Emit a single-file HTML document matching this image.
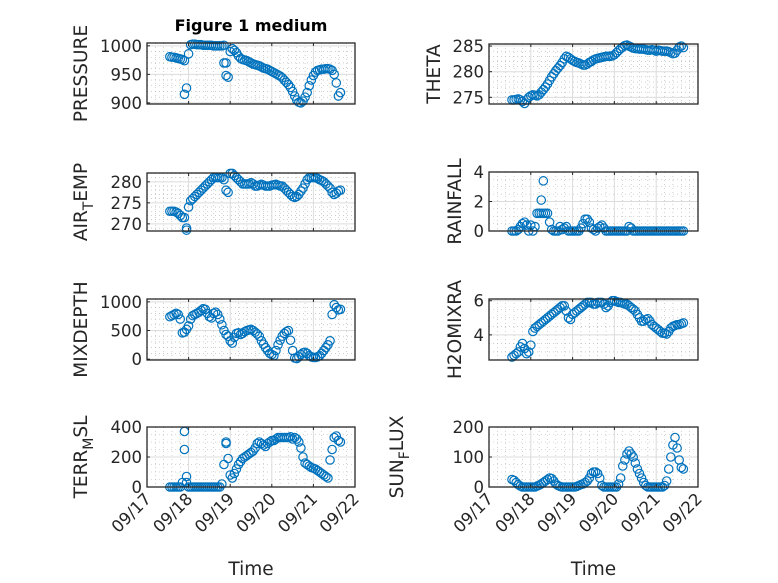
<!DOCTYPE html>
<html><head><meta charset="utf-8"><style>
html,body{margin:0;padding:0;background:#fff;}
svg{display:block;font-family:"DejaVu Sans","Liberation Sans",sans-serif;}
</style></head><body>
<svg id="fig" width="778" height="583" viewBox="0 0 778 583" xmlns="http://www.w3.org/2000/svg">
<rect width="778" height="583" fill="#fff"/>
<text x="251" y="31" text-anchor="middle" font-size="16" font-weight="bold" fill="#000">Figure 1 medium</text>
</svg>
<script>
const times = [0.55,0.60,0.65,0.70,0.75,0.80,0.85,0.90,0.95,1.00,1.05,1.10,1.15,1.20,1.25,1.30,1.35,1.40,1.45,1.50,1.55,1.60,1.65,1.70,1.75,1.80,1.85,1.90,1.95,2.00,2.05,2.10,2.15,2.20,2.25,2.30,2.35,2.40,2.45,2.50,2.55,2.60,2.65,2.70,2.75,2.80,2.85,2.90,2.95,3.00,3.05,3.10,3.15,3.20,3.25,3.30,3.35,3.40,3.45,3.50,3.55,3.60,3.65,3.70,3.75,3.80,3.85,3.90,3.95,4.00,4.05,4.10,4.15,4.20,4.25,4.30,4.35,4.40,4.45,4.50,4.55,4.60,4.65];
const xTickLabels = ["09/17","09/18","09/19","09/20","09/21","09/22"];
const pressure = [981,980,980,979,978,977,976,974,926,986, 1002,1003,1003,1002,1002,1002,1001,1001,1001,1001, 1001,1000,1000,1000,1000,1000,1001,970,945,990, 995,992,988,982,978,976,975,974,972,970, 968,967,966,965,963,961,960,959,957,955, 953,951,949,947,944,940,936,932,927,920, 912,905,901,900,903,910,918,930,940,948, 954,957,958,959,959,960,960,959,957,950, 935,912,918];
const airTemp = [273,273,273,272.8,272.5,272,271.5,271.5,268.5,274, 275.5,276,276.5,277,277.5,278,278.5,279,279.5,280, 280.5,281,281,281,281,281,280.5,278,277.5,282, 282,281.5,281,280.5,280,279.5,279.5,279.5,279.5,279.8, 279.5,279,279,279.2,279.4,279.2,279,279,279,279.2, 279.3,279.4,279.2,279,279,278.5,278,277.5,277,276.5, 276.3,276.5,277,277.8,278.5,279.5,280.5,281,281,281, 281,280.8,280.5,280.3,280,279.5,279,278.5,277.5,277, 277.3,277.8,278];
const mixDepth = [740,760,780,800,780,700,460,470,520,580, 700,760,780,800,820,850,880,870,800,740, 720,800,820,780,700,600,500,430,400,320, 280,380,450,460,430,450,480,500,510,520, 500,470,440,400,320,260,200,150,100,80, 60,150,250,330,400,450,480,500,330,150, 20,10,40,80,110,120,100,60,40,30, 30,40,60,100,150,200,250,320,780,950, 900,860,870];
const terrMsl = [0,0,0,0,0,0,30,370,70,0, 0,0,0,0,0,0,0,0,0,0, 0,0,0,0,0,20,150,290,190,80, 60,90,120,150,170,190,200,210,220,230, 240,260,290,300,290,280,270,290,300,310, 310,320,330,330,330,330,330,330,335,320, 330,320,300,260,200,160,150,140,130,125, 120,110,100,90,80,70,60,180,250,330, 340,310,300];
const theta = [274.5,274.5,274.6,274.7,274.5,274.2,273.8,274.5,275,275.3, 275.5,275.4,275.3,275.5,276,276.5,277,277.6,278.3,279, 279.6,280.2,280.7,281.2,281.8,282.5,283,282.8,282.5,282.2, 282,281.8,281.7,281.5,281.3,281.3,281.5,281.8,282,282.3, 282.5,282.6,282.7,282.8,282.9,283,283,283,283.1,283.3, 283.7,284.1,284.5,284.8,285.1,285.2,285,284.8,284.6,284.5, 284.5,284.4,284.4,284.4,284.3,284.2,284.2,284.3,284.2,284, 284.2,284.1,284,284,284,283.9,283.7,283.5,283.6,284.2, 284.8,285,284.7];
const rainfall = [0,0,0,0.1,0.3,0.5,0.6,0.4,0,0.4, 0,0.3,1.2,1.2,2.1,3.4,1.2,1.2,0.6,0.1, 0,0,0,0.3,0.1,0.2,0.3,0,0,0, 0,0,0,0.2,0.5,0.8,0.8,0.6,0.2,0.1, 0,0.2,0.3,0.4,0.2,0,0,0,0,0, 0,0,0,0,0,0,0.3,0.2,0,0, 0,0,0,0,0,0,0,0,0,0, 0,0,0,0,0,0,0,0,0,0, 0,0,0];
const h2oMix = [2.7,2.8,2.9,3.0,3.3,3.5,3.2,2.9,3.0,3.4, 4.2,4.4,4.5,4.6,4.7,4.8,4.9,5.0,5.1,5.2, 5.3,5.4,5.5,5.6,5.7,5.7,5.4,5.0,4.9,5.2, 5.3,5.4,5.5,5.6,5.7,5.8,5.9,5.9,5.9,5.8, 5.8,5.9,5.9,5.9,5.8,5.6,5.7,5.9,6.0,6.0, 5.95,5.9,5.9,5.85,5.8,5.8,5.7,5.6,5.5,5.4, 5.2,5.0,4.8,4.8,4.9,4.95,4.8,4.6,4.5,4.4, 4.3,4.2,4.1,4.1,4.05,4.2,4.4,4.5,4.55,4.6, 4.6,4.65,4.7];
const sunFlux = [25,22,15,8,3,0,0,0,0,0, 0,0,3,6,10,15,20,25,30,28, 20,10,5,2,0,0,0,0,0,0, 0,2,5,8,10,15,20,30,45,50, 50,45,30,5,0,0,0,0,0,0, 0,10,30,70,90,110,120,110,100,80, 60,45,30,15,5,0,0,0,0,0, 0,0,0,5,20,60,100,140,165,130, 90,65,60];
const extraPressureT = [0.90,1.85,1.90]; const extraPressureV = [915,970,948];
const extraAirT = [0.95]; const extraAirV = [269];
const extraTerrT = [0.90,0.95,1.90]; const extraTerrV = [250,30,300];
const extraRainT = [1.25,1.30]; const extraRainV = [1.2,1.2];

const NS = "http://www.w3.org/2000/svg";
const svg = document.getElementById('fig');
function mk(tag, attrs, parent){const e=document.createElementNS(NS,tag);for(const k in attrs)e.setAttribute(k,attrs[k]);(parent||svg).appendChild(e);return e;}

const panels = [
 {key:'pressure',vals:pressure,ex:[extraPressureT,extraPressureV],L:147,T:43,R:355,B:104,ymin:898,ymax:1005,ticks:[900,950,1000],minor:10,label:['PRESSURE'],lx:87,xl:false},
 {key:'theta',vals:theta,ex:null,L:489,T:44,R:698,B:104,ymin:273.7,ymax:285.4,ticks:[275,280,285],minor:1,label:['THETA'],lx:440,xl:false},
 {key:'air-temp',vals:airTemp,ex:[extraAirT,extraAirV],L:147,T:173,R:355,B:231,ymin:268.3,ymax:282.1,ticks:[270,275,280],minor:1,label:['AIR','T','EMP'],lx:87,xl:false},
 {key:'rainfall',vals:rainfall,ex:[extraRainT,extraRainV],L:489,T:172,R:698,B:231,ymin:0,ymax:4,ticks:[0,2,4],minor:0.5,label:['RAINFALL'],lx:461,xl:false},
 {key:'mixdepth',vals:mixDepth,ex:null,L:147,T:299,R:355,B:360,ymin:-15,ymax:1050,ticks:[0,500,1000],minor:100,label:['MIXDEPTH'],lx:87,xl:false},
 {key:'h2omixratio',vals:h2oMix,ex:null,L:489,T:299,R:698,B:360,ymin:2.53,ymax:6.1,ticks:[4,6],minor:0.5,label:['H2OMIXRA'],lx:461,xl:false},
 {key:'terr-msl',vals:terrMsl,ex:[extraTerrT,extraTerrV],L:147,T:427,R:355,B:487,ymin:0,ymax:400,ticks:[0,200,400],minor:50,label:['TERR','M','SL'],lx:87,xl:true},
 {key:'sun-flux',vals:sunFlux,ex:null,L:489,T:427,R:698,B:487,ymin:0,ymax:200,ticks:[0,100,200],minor:25,label:['SUN','F','LUX'],lx:403,xl:true}
];

panels.forEach(p=>{
  const g = mk('g',{});
  
  
  const xs = d => p.L + (d/5)*(p.R-p.L);
  const ys = v => p.B - (v-p.ymin)/(p.ymax-p.ymin)*(p.B-p.T);
  for(let d=0; d<5; d+=0.2){ if(Math.abs(d-Math.round(d))<1e-6) continue;
    mk('line',{x1:xs(d),x2:xs(d),y1:p.T,y2:p.B,stroke:'#b0b0b0','stroke-width':0.6,'stroke-dasharray':'1,3'},g);}
  const start = Math.ceil(p.ymin/p.minor)*p.minor;
  for(let v=start; v<=p.ymax; v+=p.minor){ if(p.ticks.some(t=>Math.abs(t-v)<1e-6)) continue;
    mk('line',{x1:p.L,x2:p.R,y1:ys(v),y2:ys(v),stroke:'#b0b0b0','stroke-width':0.6,'stroke-dasharray':'1,3'},g);}
  for(let i=1;i<5;i++) mk('line',{x1:xs(i),x2:xs(i),y1:p.T,y2:p.B,stroke:'#dcdcdc','stroke-width':1},g);
  p.ticks.forEach(t=>{ mk('line',{x1:p.L,x2:p.R,y1:ys(t),y2:ys(t),stroke:'#dcdcdc','stroke-width':1},g);
    const tl = mk('text',{x:p.L-5,y:ys(t)+6,'text-anchor':'end','font-size':16.5,fill:'#262626'},g);
    
    
    tl.textContent = t;
    mk('line',{x1:p.L,x2:p.L+3,y1:ys(t),y2:ys(t),stroke:'#262626'},g);
  });
  const pts = times.map((t,i)=>[t,p.vals[i]]);
  if(p.ex) p.ex[0].forEach((t,i)=>pts.push([t,p.ex[1][i]]));
  pts.forEach(([t,v])=>{
    const c = mk('circle',{cx:xs(t),cy:ys(v),r:4.2,fill:'none',stroke:'#0072BD','stroke-width':1.2},g);
    
    
  });
  mk('rect',{x:p.L,y:p.T,width:p.R-p.L,height:p.B-p.T,fill:'none',stroke:'#262626','stroke-width':1.3},g);
  for(let i=0;i<=5;i++){ mk('line',{x1:xs(i),x2:xs(i),y1:p.B,y2:p.B-3,stroke:'#262626'},g); mk('line',{x1:xs(i),x2:xs(i),y1:p.T,y2:p.T+3,stroke:'#262626'},g);}
  const cy = (p.T+p.B)/2;
  const lab = mk('text',{x:0,y:0,transform:`translate(${p.lx},${cy}) rotate(-90)`,'text-anchor':'middle','font-size':18.5,fill:'#262626'},g);
  
  
  if(p.label.length===1){ lab.textContent=p.label[0]; }
  else {
    const a=mk('tspan',{},lab); a.textContent=p.label[0];
    const b=mk('tspan',{dy:6,'font-size':14},lab); b.textContent=p.label[1];
    const c2=mk('tspan',{dy:-6},lab); c2.textContent=p.label[2];
  }
  if(p.xl){
    xTickLabels.forEach((s,i)=>{
      const tx = mk('text',{x:0,y:0,transform:`translate(${xs(i)+5},${p.B+13}) rotate(-45)`,'text-anchor':'end','font-size':16.5,fill:'#262626'},g);
      
      
      tx.textContent = s;
    });
    const xt = mk('text',{x:(p.L+p.R)/2,y:575,'text-anchor':'middle','font-size':18.5,fill:'#262626'},g);
    
    
    xt.textContent='Time';
  }
});
</script>
</body></html>
